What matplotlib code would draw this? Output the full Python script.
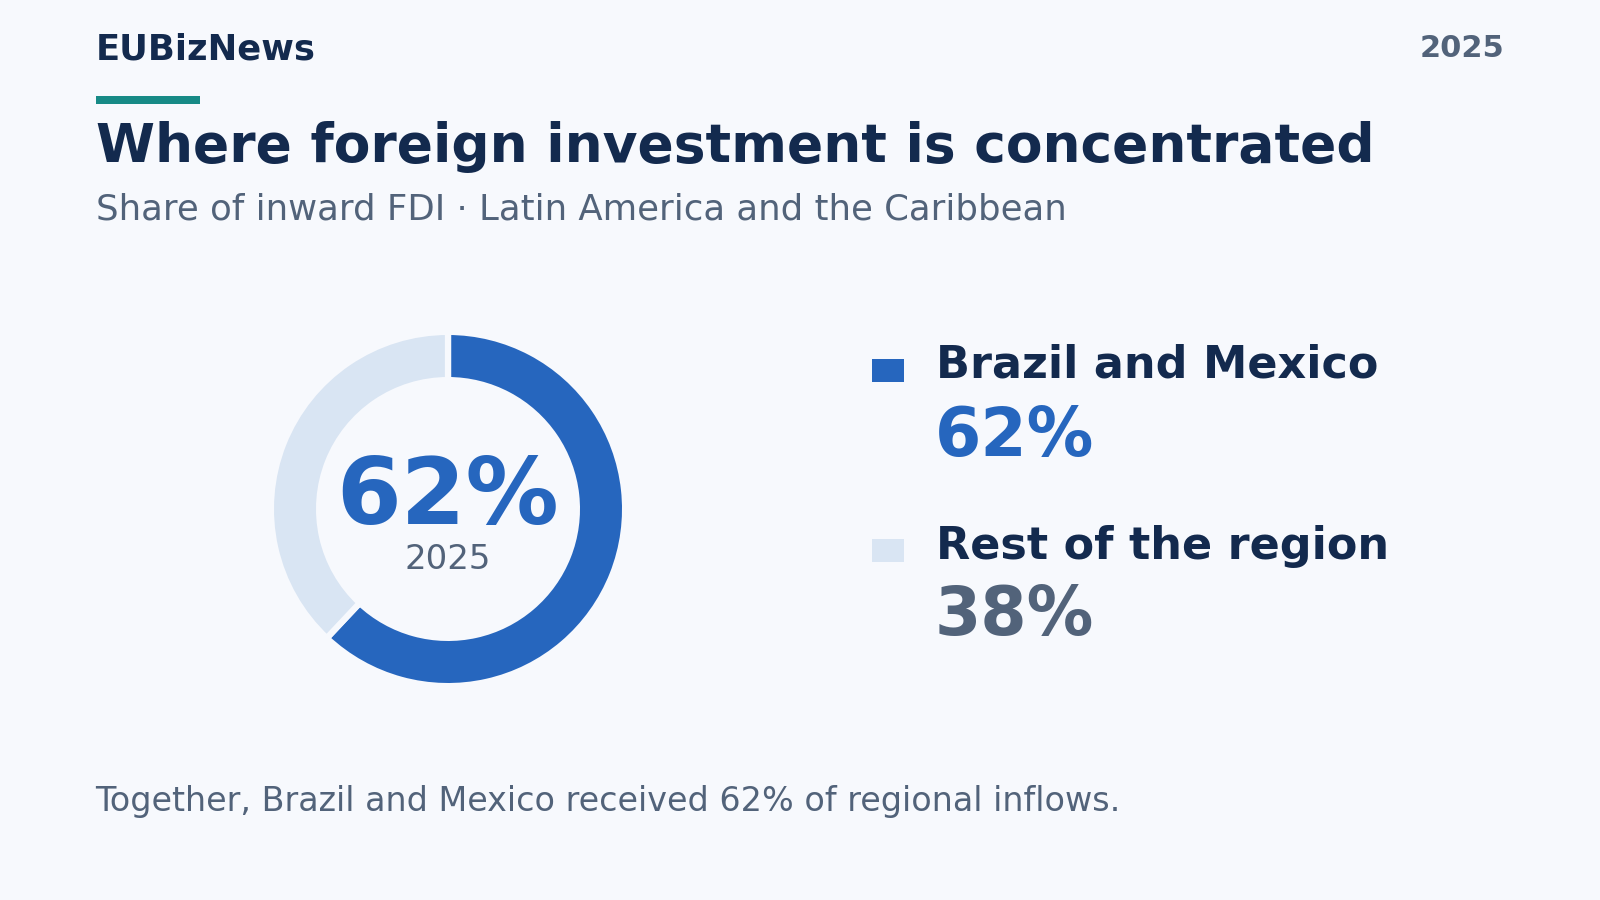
import matplotlib
matplotlib.use("Agg")
from matplotlib import pyplot as plt
from matplotlib.patches import Rectangle

# data
labels = ["Brazil and Mexico", "Rest of the region"]
shares = [62, 38]
year = "2025"

BG = "#F7F9FD"
NAVY = "#132A4E"
GRAY = "#52637A"
TEAL = "#178A86"
colors = ["#2666BE", "#D9E5F3"]
value_colors = ["#2666BE", GRAY]

W, H = 1600, 900
fig = plt.figure(figsize=(16, 9), dpi=100, facecolor=BG)

# full-figure layer in pixel coords (y down)
lay = fig.add_axes([0, 0, 1, 1])
lay.set_xlim(0, W)
lay.set_ylim(H, 0)
lay.axis("off")
lay.set_facecolor(BG)

lay.text(96, 59, "EUBizNews", fontsize=25.5, fontweight="bold", color=NAVY, va="baseline")
lay.text(1504, 57, year, fontsize=22, fontweight="bold", color=GRAY, va="baseline", ha="right")
lay.add_patch(Rectangle((96, 96), 104, 7.5, color=TEAL, lw=0))
lay.text(96, 162, "Where foreign investment is concentrated", fontsize=38.5,
         fontweight="bold", color=NAVY, va="baseline")
lay.text(96, 220, "Share of inward FDI \u00b7 Latin America and the Caribbean",
         fontsize=25.6, color=GRAY, va="baseline")
lay.text(95, 811, "Together, Brazil and Mexico received %d%% of regional inflows." % shares[0],
         fontsize=24, color=GRAY, va="baseline")

# legend
rows = [(359, 378, 456), (539, 559, 635)]
for i, (sq_y, lab_y, val_y) in enumerate(rows):
    lay.add_patch(Rectangle((872, sq_y), 32, 23, color=colors[i], lw=0))
    lay.text(936, lab_y, labels[i], fontsize=32, fontweight="bold", color=NAVY, va="baseline")
    lay.text(935, val_y, "%d%%" % shares[i], fontsize=48, fontweight="bold",
             color=value_colors[i], va="baseline")

# donut
cx, cy, r = 448, 509, 174
half = r * 1.1
ax = fig.add_axes([(cx - half) / W, (H - cy - half) / H, 2 * half / W, 2 * half / H])
lw = 4.5
pad = lw * 100 / 72 / 2
ax.pie(shares, colors=colors, startangle=90, counterclock=False,
       radius=(r + pad) / r,
       wedgeprops=dict(width=(r + pad - (132 - pad)) / r, edgecolor=BG, linewidth=lw))
ax.set_xlim(-1.1, 1.1)
ax.set_ylim(-1.1, 1.1)
ax.set_aspect("equal")
ax.axis("off")

lay.text(cx, 524, "%d%%" % shares[0], fontsize=67, fontweight="bold", color=colors[0],
         ha="center", va="baseline")
lay.text(cx, 569, year, fontsize=24.5, color=GRAY, ha="center", va="baseline")

fig.savefig("out.png", dpi=100, facecolor=BG)
